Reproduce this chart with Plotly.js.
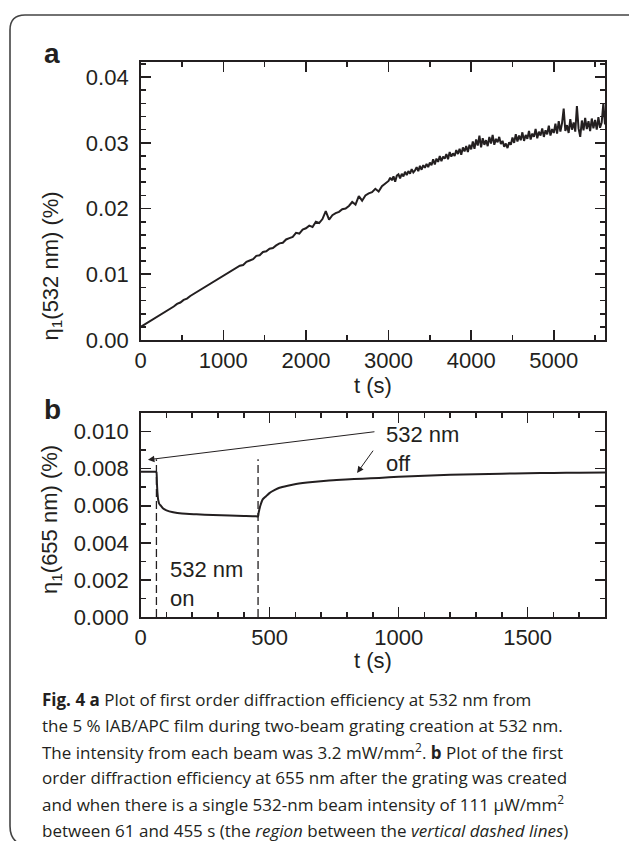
<!DOCTYPE html>
<html>
<head>
<meta charset="utf-8">
<script src="https://cdn.plot.ly/plotly-3.0.1.min.js"></script>
<style>
html,body{margin:0;padding:0;background:#fff;}
#chart{width:629px;height:841px;}
</style>
</head>
<body>
<div id="chart"></div>
<script>
// ---- Panel a: grating creation at 532 nm ----
const tA = [0,40,80,120,160,200,240,280,320,360,400,440,480,520,560,600,640,680,720,760,800,840,880,920,960,1000,
1040,1080,1120,1160,1200,1240,1280,1320,1360,1400,1440,1480,1520,1560,1600,1640,1680,1720,1760,1800,1840,1880,1920,1960,2000,
2040,2080,2120,2160,2200,2240,2280,2320,2360,2400,2440,2480,2520,2560,2600,2640,2680,2720,2760,2800,2840,2880,2920,2960,
3000,3020,3040,3060,3080,3100,3120,3140,3160,3180,3200,3220,3240,3260,3280,3300,3320,3340,3360,3380,3400,3420,3440,3460,3480,
3500,3520,3540,3560,3580,3600,3620,3640,3660,3680,3700,3720,3740,3760,3780,3800,3820,3840,3860,3880,3900,3920,3940,3960,3980,
4000,4020,4040,4060,4080,4100,4120,4140,4160,4180,4200,4220,4240,4260,4280,4300,4320,4340,4360,4380,4400,4420,4440,4460,4480,
4500,4520,4540,4560,4580,4600,4620,4640,4660,4680,4700,4720,4740,4760,4780,4800,4820,4840,4860,4880,4900,4920,4940,4960,4980,
5000,5020,5040,5060,5080,5100,5120,5140,5160,5180,5200,5220,5240,5260,5280,5300,5320,5340,5360,5380,5400,5420,5440,5460,5480,
5500,5520,5540,5560,5580,5600,5620];
const etaA = [0.0020,0.0023,0.0026,0.0029,0.0032,0.0036,0.0039,0.0042,0.0045,0.0048,0.0051,0.0055,0.0057,0.0061,0.0063,0.0067,0.0070,0.0073,0.0076,0.0080,0.0082,0.0086,0.0088,0.0092,0.0095,0.0098,
0.0100,0.0104,0.0106,0.0109,0.0113,0.0114,0.0119,0.0121,0.0123,0.0128,0.0129,0.0134,0.0135,0.0139,0.0140,0.0144,0.0147,0.0148,0.0153,0.0155,0.0157,0.0163,0.0162,0.0168,0.0170,
0.0174,0.0172,0.0180,0.0178,0.0184,0.0196,0.0183,0.0190,0.0193,0.0195,0.0199,0.0200,0.0204,0.0210,0.0206,0.0219,0.0212,0.0220,0.0223,0.0225,0.0230,0.0226,0.0234,0.0238,
0.0242,0.0247,0.0243,0.0249,0.0241,0.0250,0.0252,0.0246,0.0253,0.0249,0.0256,0.0251,0.0257,0.0253,0.0260,0.0255,0.0258,0.0263,0.0257,0.0265,0.0259,0.0266,0.0262,0.0268,0.0263,
0.0270,0.0266,0.0275,0.0267,0.0276,0.0271,0.0280,0.0272,0.0279,0.0276,0.0283,0.0275,0.0286,0.0279,0.0284,0.0280,0.0289,0.0283,0.0291,0.0282,0.0293,0.0287,0.0295,0.0286,0.0297,
0.0290,0.0302,0.0291,0.0305,0.0296,0.0311,0.0293,0.0307,0.0297,0.0304,0.0295,0.0309,0.0299,0.0312,0.0297,0.0306,0.0301,0.0309,0.0298,0.0303,0.0294,0.0299,0.0292,0.0301,0.0297,
0.0308,0.0300,0.0313,0.0302,0.0311,0.0304,0.0316,0.0303,0.0312,0.0306,0.0318,0.0305,0.0314,0.0309,0.0321,0.0307,0.0317,0.0311,0.0322,0.0309,0.0319,0.0313,0.0326,0.0311,0.0321,
0.0315,0.0329,0.0314,0.0333,0.0317,0.0330,0.0352,0.0318,0.0327,0.0315,0.0336,0.0320,0.0331,0.0317,0.0356,0.0322,0.0309,0.0334,0.0319,0.0338,0.0321,0.0333,0.0318,0.0337,0.0322,
0.0335,0.0320,0.0339,0.0323,0.0331,0.0360,0.0328];

// ---- Panel b: 655 nm probe, 532 nm beam on between the switch times ----
const tB = [0,20,40,58,61,63,65,68,72,78,87,100,126,160,216,280,345,400,448,455,457,460,465,473,485,499,520,538,570,602,666,730,795,860,924,1000,1100,1200,1300,1400,1500,1600,1700,1800];
const etaB = [0.00783,0.00783,0.00783,0.00783,0.00780,0.00720,0.00670,0.00630,0.00610,0.00600,0.00585,0.00575,0.00565,0.00558,0.00554,0.00550,0.00547,0.00545,0.00543,0.00542,0.00560,0.00580,0.00605,0.00634,0.00650,0.00668,0.00685,0.00697,0.00708,0.00717,0.00728,0.00736,0.00741,0.00746,0.00750,0.00756,0.00762,0.00767,0.00770,0.00773,0.00775,0.00777,0.00778,0.00779];
const switchTimes = [61, 455];
const dashTop = 0.0085;

const xTicksA = [0,1000,2000,3000,4000,5000];
const yTicksA = [0,0.01,0.02,0.03,0.04];
const xTicksB = [0,500,1000,1500];
const yTicksB = [0,0.002,0.004,0.006,0.008,0.010];

const W = 629, H = 841;
const px = v => v / W;
const py = v => 1 - v / H;
const ink = '#231f20';
const sans = 'Liberation Sans, Arial, sans-serif';
const tickFont = {family: sans, size: 22, color: ink};

function axisBase(extra) {
  return Object.assign({
    showline: true, linecolor: ink, linewidth: 1.6, mirror: 'allticks',
    ticks: 'inside', ticklen: 10, tickwidth: 1.6, tickcolor: ink,
    showgrid: false, zeroline: false, tickfont: tickFont, fixedrange: true
  }, extra);
}
function minorTicks(d) {
  return {dtick: d, tick0: 0, ticks: 'inside', ticklen: 5, tickwidth: 1.6, tickcolor: ink};
}

const traces = [
  {x: tA, y: etaA, xaxis: 'x', yaxis: 'y', mode: 'lines', line: {color: ink, width: 2}, hoverinfo: 'skip'},
  {x: tB, y: etaB, xaxis: 'x2', yaxis: 'y2', mode: 'lines', line: {color: ink, width: 2, shape: 'spline', smoothing: 0.6}, hoverinfo: 'skip'}
];

const shapes = switchTimes.map(t => ({
  type: 'line', xref: 'x2', yref: 'y2', x0: t, x1: t, y0: 0, y1: dashTop,
  line: {color: ink, width: 1.3, dash: '8px,4px'}
}));
// rounded frame around the figure
shapes.push({
  type: 'path', xref: 'paper', yref: 'paper',
  path: `M ${px(10)},${py(826)} L ${px(10)},${py(30)} Q ${px(10)},${py(15)} ${px(25)},${py(15)} L ${px(640)},${py(15)} M ${px(10)},${py(826)} Q ${px(10)},${py(838)} ${px(18)},${py(843)}`,
  line: {color: '#444', width: 1.6}
});

const lblFont = {family: sans, size: 22, color: ink};
const capFont = {family: 'Open Sans, sans-serif', size: 17, color: ink};
const capLines = [
  '<b>Fig. 4 a</b> Plot of first order diffraction efficiency at 532 nm from',
  'the 5 % IAB/APC film during two-beam grating creation at 532 nm.',
  'The intensity from each beam was 3.2 mW/mm<sup>2</sup>. <b>b</b> Plot of the first',
  'order diffraction efficiency at 655 nm after the grating was created',
  'and when there is a single 532-nm beam intensity of 111 μW/mm<sup>2</sup>',
  'between 61 and 455 s (the <i>region</i> between the <i>vertical dashed lines</i>)'
];
const capY = [699, 725.2, 751.4, 777.6, 803.8, 830];

const annotations = [
  {xref: 'paper', yref: 'paper', x: px(42), y: py(36), text: '<b>a</b>', showarrow: false, font: {family: sans, size: 28, color: ink}},
  {xref: 'paper', yref: 'paper', x: px(42), y: py(409), text: '<b>b</b>', showarrow: false, font: {family: sans, size: 28, color: ink}},
  {xref: 'paper', yref: 'paper', x: px(35), y: py(190), text: 'η<sub>1</sub>(532 nm) (%)', textangle: -90, showarrow: false, font: lblFont},
  {xref: 'paper', yref: 'paper', x: px(35), y: py(520), text: 'η<sub>1</sub>(655 nm) (%)', textangle: -90, showarrow: false, font: lblFont},
  {xref: 'paper', yref: 'paper', x: px(373), y: py(386), text: 't (s)', showarrow: false, font: lblFont},
  {xref: 'paper', yref: 'paper', x: px(373), y: py(675), text: 't (s)', showarrow: false, font: lblFont},
  {xref: 'x2', yref: 'y2', x: 944, y: 0.00905, xanchor: 'left', yanchor: 'middle', align: 'left', text: '532 nm<br>off', showarrow: false, font: lblFont},
  {xref: 'x2', yref: 'y2', x: 107, y: 0.0018, xanchor: 'left', yanchor: 'middle', align: 'left', text: '532 nm<br>on', showarrow: false, font: lblFont},
  {xref: 'x2', yref: 'y2', x: 28, y: 0.00848, axref: 'x2', ayref: 'y2', ax: 912, ay: 0.0100, text: '', showarrow: true, arrowhead: 2, arrowsize: 1.3, arrowwidth: 1, arrowcolor: ink},
  {xref: 'x2', yref: 'y2', x: 839, y: 0.00777, axref: 'x2', ayref: 'y2', ax: 905, ay: 0.00905, text: '', showarrow: true, arrowhead: 2, arrowsize: 1.3, arrowwidth: 1, arrowcolor: ink}
];
capLines.forEach((t, i) => annotations.push({
  xref: 'paper', yref: 'paper', x: px(40), y: py(capY[i]), xanchor: 'left', yanchor: 'middle', align: 'left',
  text: t, showarrow: false, font: capFont
}));

const layout = {
  width: W, height: H, margin: {l: 0, r: 0, t: 0, b: 0},
  paper_bgcolor: '#fff', plot_bgcolor: '#fff', showlegend: false,
  xaxis: axisBase({domain: [px(140.7), px(605)], range: [0, 5620], anchor: 'y', tickvals: xTicksA, minor: minorTicks(500)}),
  yaxis: axisBase({domain: [py(340), py(62)], range: [0, 0.0423], anchor: 'x', tickvals: yTicksA, tickformat: '.2f', minor: minorTicks(0.002), ticklabelstandoff: 6}),
  xaxis2: axisBase({domain: [px(140.7), px(605)], range: [0, 1800], anchor: 'y2', tickvals: xTicksB, minor: minorTicks(100)}),
  yaxis2: axisBase({domain: [py(617), py(413)], range: [0, 0.011], anchor: 'x2', tickvals: yTicksB, tickformat: '.3f', minor: minorTicks(0.001), ticklabelstandoff: 6}),
  shapes: shapes,
  annotations: annotations
};

Plotly.newPlot('chart', traces, layout, {displayModeBar: false, staticPlot: true});
</script>
</body>
</html>
